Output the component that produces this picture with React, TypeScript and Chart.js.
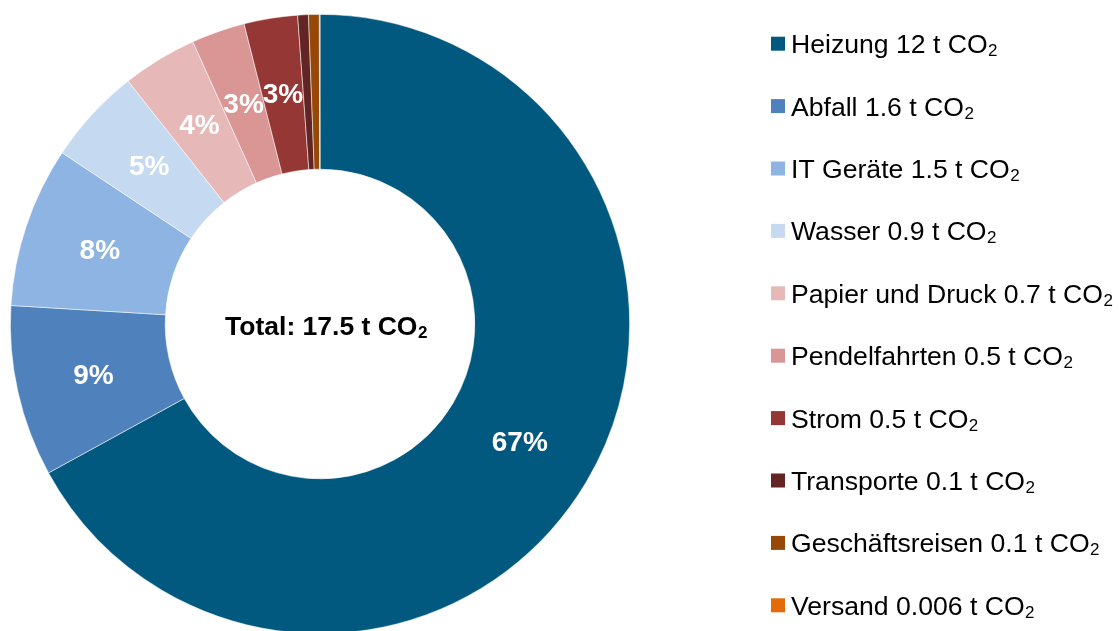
import React, { useEffect, useRef } from "react";
import { Chart, registerables } from "chart.js";

Chart.register(...registerables);

const categories = [
  "Heizung",
  "Abfall",
  "IT Geräte",
  "Wasser",
  "Papier und Druck",
  "Pendelfahrten",
  "Strom",
  "Transporte",
  "Geschäftsreisen",
  "Versand",
];
const values = [12, 1.6, 1.5, 0.9, 0.7, 0.5, 0.5, 0.1, 0.1, 0.006];
const valueTexts = ["12", "1.6", "1.5", "0.9", "0.7", "0.5", "0.5", "0.1", "0.1", "0.006"];
const colors = [
  "#02597F",
  "#4F81BD",
  "#8DB4E2",
  "#C5D9F1",
  "#E6B9B8",
  "#D99694",
  "#953735",
  "#632523",
  "#974706",
  "#E36C09",
];
const totalText = "17.5";
const unit = "t CO";
const sub = "2";

const FONT = "'Liberation Sans', Arial, sans-serif";

const labelsPlugin = {
  id: "pctLabels",
  afterDatasetsDraw(chart: any) {
    const ctx = chart.ctx;
    const meta = chart.getDatasetMeta(0);
    const data = chart.data.datasets[0].data as number[];
    const sum = data.reduce((a, b) => a + b, 0);
    ctx.save();
    ctx.fillStyle = "#FFFFFF";
    ctx.font = `bold 28px ${FONT}`;
    ctx.textAlign = "center";
    ctx.textBaseline = "middle";
    meta.data.forEach((arc: any, i: number) => {
      const pct = (data[i] / sum) * 100;
      if (pct < 2) return;
      const p = arc.tooltipPosition();
      ctx.fillText(`${Math.round(pct)}%`, p.x, p.y + 1);
    });
    ctx.restore();
  },
};

function drawWithSub(ctx: any, main: string, x: number, y: number, mainFont: string, subFont: string, dy: number) {
  ctx.font = mainFont;
  ctx.fillText(main, x, y);
  const w = ctx.measureText(main).width;
  ctx.font = subFont;
  ctx.fillText(sub, x + w + 0.5, y + dy);
}

const extrasPlugin = {
  id: "extras",
  afterDraw(chart: any) {
    const ctx = chart.ctx;
    const meta = chart.getDatasetMeta(0);
    const arc: any = meta.data[0];
    ctx.save();
    ctx.textAlign = "left";
    ctx.textBaseline = "alphabetic";
    ctx.fillStyle = "#000000";
    // Centre text
    const main = `Total: ${totalText} ${unit}`;
    ctx.font = `bold 26.5px ${FONT}`;
    const mw = ctx.measureText(main).width;
    ctx.font = `bold 17px ${FONT}`;
    const sw = ctx.measureText(sub).width;
    const startX = arc.x + 6 - (mw + sw) / 2;
    drawWithSub(ctx, main, startX, arc.y + 11, `bold 26.5px ${FONT}`, `bold 17px ${FONT}`, 3);

    // Legend
    const lx = 771;
    const ly0 = 43.7;
    const step = 62.4;
    categories.forEach((c, i) => {
      const cy = ly0 + i * step;
      ctx.fillStyle = colors[i];
      ctx.fillRect(lx, cy - 7, 14, 14);
      ctx.fillStyle = "#000000";
      drawWithSub(ctx, `${c} ${valueTexts[i]} ${unit}`, lx + 20, cy + 9.5, `26.6px ${FONT}`, `17px ${FONT}`, 3);
    });
    ctx.restore();
  },
};

export default function App() {
  const ref = useRef<HTMLCanvasElement | null>(null);
  useEffect(() => {
    if (!ref.current) return;
    const chart = new Chart(ref.current, {
      type: "doughnut",
      data: {
        labels: categories,
        datasets: [
          {
            data: values,
            backgroundColor: colors,
            borderColor: "rgba(255,255,255,0.7)",
            borderWidth: 0.75,
          },
        ],
      },
      options: {
        responsive: false,
        animation: false,
        devicePixelRatio: 1,
        cutout: "50%",
        layout: { padding: { left: 10, top: 14, right: 489, bottom: 26 } },
        plugins: {
          legend: { display: false },
          tooltip: { enabled: false },
          title: { display: false },
        },
      },
      plugins: [labelsPlugin, extrasPlugin],
    });
    return () => chart.destroy();
  }, []);
  return (
    <div
      style={{
        position: "fixed",
        left: 0,
        top: 0,
        width: 1119,
        height: 631,
        overflow: "hidden",
        background: "#FFFFFF",
      }}
    >
      <canvas ref={ref} width={1119} height={660} style={{ display: "block" }} />
    </div>
  );
}
